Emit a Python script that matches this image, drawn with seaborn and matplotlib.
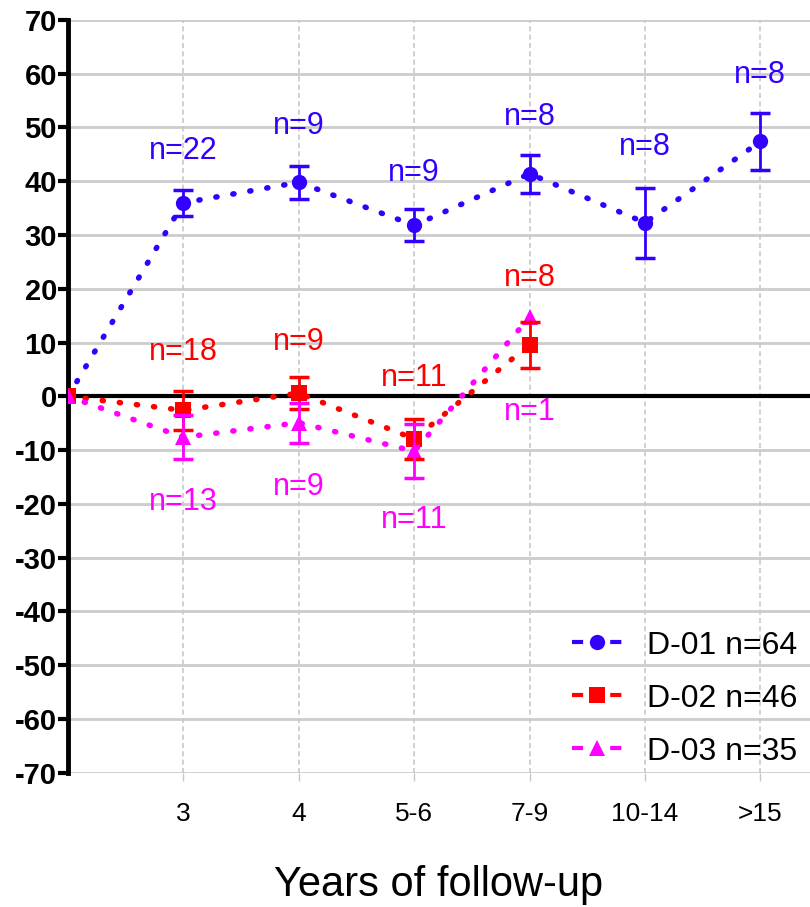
import matplotlib
matplotlib.use('Agg')
import matplotlib.pyplot as plt
from matplotlib.lines import Line2D
import seaborn as sns
import pandas as pd

# follow-up groups (index 0 is the baseline, no label)
groups = ['', '3', '4', '5-6', '7-9', '10-14', '>15']

d01 = [0, 36.0, 39.8, 31.8, 41.4, 32.3, 47.4]
d01_err = [0, 2.4, 3.1, 3.0, 3.5, 6.5, 5.3]
d02 = [0, -2.6, 0.6, -7.9, 9.6]
d02_err = [0, 3.6, 3.0, 3.7, 4.3]
d03 = [0, -7.6, -4.9, -10.2, 14.7]
d03_err = [0, 4.1, 3.7, 5.0, 0]

# n per time point and where the label sits
d01_n = [22, 9, 9, 8, 8, 8]
d01_ny = [45.7, 50.2, 41.6, 52.0, 46.3, 59.7]
d02_n = [18, 9, 11, 8]
d02_ny = [8.2, 10.2, 3.5, 22.1]
d03_n = [13, 9, 11, 1]
d03_ny = [-19.7, -16.9, -23.0, -3.0]

legend_labels = ['D-01 n=64', 'D-02 n=46', 'D-03 n=35']
colors = ['#3300ff', '#ff0000', '#ff00ff']
markers = ['o', 's', '^']

rows = []
for name, vals in zip(legend_labels, [d01, d02, d03]):
    for i, v in enumerate(vals):
        rows.append({'x': i, 'y': v, 'group': name})
df = pd.DataFrame(rows)

sns.set_style('white')
plt.rcParams['font.family'] = ['Liberation Sans', 'DejaVu Sans']
plt.rcParams['text.color'] = 'black'
plt.rcParams['axes.labelcolor'] = 'black'
plt.rcParams['xtick.color'] = 'black'
plt.rcParams['ytick.color'] = 'black'

fig = plt.figure(figsize=(8.1, 9.07), dpi=100)
ax = fig.add_axes([0.084, 0.148, 0.916, 0.83])

# grid
for yv in range(-70, 71, 10):
    ax.axhline(yv, color='#cccccc', lw=2, zorder=0)
for xv in range(1, 7):
    ax.axvline(xv, color='#c8c8c8', lw=1.2, ls=(0, (3, 2)), zorder=0)
ax.axhline(0, color='black', lw=3, zorder=1)

sns.lineplot(data=df, x='x', y='y', hue='group', style='group',
             palette=colors, markers=markers, dashes=False, markersize=11,
             markeredgewidth=0, lw=4, legend=False, ax=ax, zorder=3, sort=False)
for line in ax.get_lines()[-3:]:
    line.set_linestyle((0, (0.2, 2.9)))
    line.set_dash_capstyle('round')

for vals, errs, c in zip([d01, d02, d03], [d01_err, d02_err, d03_err], colors):
    xs = [i for i, e in enumerate(errs) if e > 0]
    ax.errorbar(xs, [vals[i] for i in xs], yerr=[errs[i] for i in xs],
                fmt='none', ecolor=c, elinewidth=2, capsize=7.5, capthick=2.5, zorder=4)

for ns, ys, c in zip([d01_n, d02_n, d03_n], [d01_ny, d02_ny, d03_ny], colors):
    for i, (n, yv) in enumerate(zip(ns, ys)):
        ax.text(i + 1, yv, f'n={n}', color=c, fontsize=22, ha='center', va='center')

ax.set_xlim(0, 6.43)
ax.set_ylim(-70, 70)
ax.set_xticks(range(1, 7))
ax.set_xticklabels(groups[1:], fontsize=19)
ax.set_yticks(range(-70, 71, 10))
ax.set_yticklabels([str(v) for v in range(-70, 71, 10)], fontsize=21, fontweight='bold')
ax.tick_params(axis='y', length=7, width=3, color='black', pad=1, left=True)
ax.tick_params(axis='x', length=6, width=1, color='#c8c8c8', pad=15, bottom=True)
ax.set_xlabel('Years of follow-up', fontsize=30, labelpad=28)
ax.set_ylabel('')

for s in ['top', 'right', 'bottom']:
    ax.spines[s].set_visible(False)
ax.spines['left'].set_linewidth(3.5)
ax.spines['left'].set_color('black')

handles = [Line2D([0], [0], color=c, marker=m, markersize=11, markeredgewidth=0,
                  lw=3, ls=(0, (2.67, 6.5))) for c, m in zip(colors, markers)]
ax.legend(handles, legend_labels, loc='lower right', frameon=False, fontsize=23,
          handlelength=1.55, handletextpad=0.8, labelspacing=0.72,
          bbox_to_anchor=(1.022, -0.03))

fig.savefig('out.png', dpi=100)
